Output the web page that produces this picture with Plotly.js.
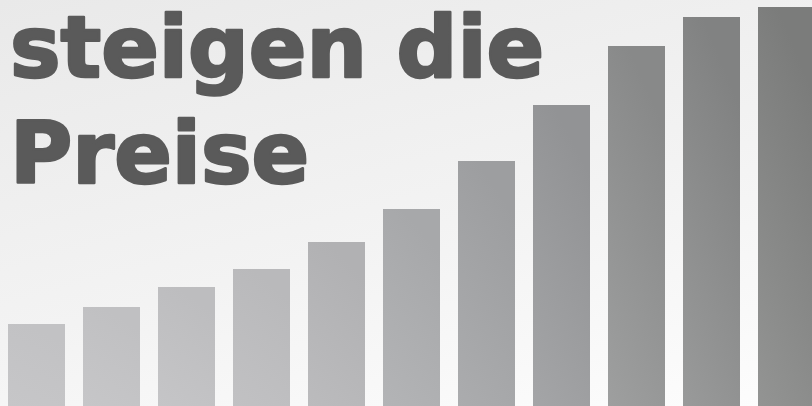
<!DOCTYPE html>
<html>
<head>
<meta charset="utf-8">
<script src="https://cdn.plot.ly/plotly-3.0.1.min.js"></script>
<style>
  html, body { margin: 0; padding: 0; }
  #wrap { width: 812px; height: 406px; background: linear-gradient(165deg, #e9e9e9 0%, #f3f3f3 55%, #fdfdfd 100%); }
  #chart { width: 812px; height: 406px; }
  .annotation-text { stroke: #5a5a5a; stroke-width: 2.6px; stroke-linejoin: round; }
</style>
</head>
<body>
<div id="wrap"><div id="chart"></div></div>
<script>
// Data (bar heights, relative units)
const positions = [0, 1, 2, 3, 4, 5, 6, 7, 8, 9, 10];
const priceLevels = [82, 99, 119, 137, 164, 197, 245, 301, 360, 389, 399];
const barColors = ['#c4c4c6', '#c3c3c5', '#c1c1c3', '#bdbdbf', '#b6b6b8', '#adaeb0',
                   '#a4a5a7', '#9b9c9e', '#939494', '#8d8e8e', '#878887'];
const titleLines = ['steigen die', 'Preise'];

const trace = {
  type: 'bar',
  x: positions,
  y: priceLevels,
  width: 0.76,
  marker: { color: barColors, line: { width: 0 } },
  hoverinfo: 'none'
};

const titleFont = { family: 'DejaVu Sans', size: 85, color: '#5a5a5a', weight: 'bold' };

const layout = {
  width: 812, height: 406,
  margin: { l: 0, r: 0, t: 0, b: 0, pad: 0 },
  paper_bgcolor: 'rgba(0,0,0,0)',
  plot_bgcolor: 'rgba(0,0,0,0)',
  showlegend: false,
  xaxis: { range: [-0.4867, 10.34], visible: false, fixedrange: true },
  yaxis: { range: [0, 406], visible: false, fixedrange: true },
  annotations: [
    { text: titleLines[0], xref: 'paper', yref: 'paper', x: 0.0095, y: 1 - 47.5 / 406,
      xanchor: 'left', yanchor: 'middle', showarrow: false, font: titleFont },
    { text: titleLines[1], xref: 'paper', yref: 'paper', x: 0.0095, y: 1 - 153.5 / 406,
      xanchor: 'left', yanchor: 'middle', showarrow: false, font: titleFont }
  ]
};

function shade(hex, d) {
  const v = parseInt(hex.slice(1), 16);
  const c = [(v >> 16) & 255, (v >> 8) & 255, v & 255].map(x => Math.max(0, Math.min(255, Math.round(x + d))));
  return 'rgb(' + c.join(',') + ')';
}

Plotly.newPlot('chart', [trace], layout, { displayModeBar: false, staticPlot: true }).then(gd => {
  // subtle light-to-dark shading inside each bar (darker at the top, as in the reference)
  const svg = gd.querySelector('.main-svg');
  const ns = 'http://www.w3.org/2000/svg';
  let defs = svg.querySelector('defs');
  if (!defs) { defs = document.createElementNS(ns, 'defs'); svg.insertBefore(defs, svg.firstChild); }
  gd.querySelectorAll('.bars .point path').forEach((p, i) => {
    const g = document.createElementNS(ns, 'linearGradient');
    g.setAttribute('id', 'barGrad' + i);
    g.setAttribute('x1', '0'); g.setAttribute('y1', '1');
    g.setAttribute('x2', '0.35'); g.setAttribute('y2', '0');
    const amt = priceLevels[i] * 0.03;
    [[0, shade(barColors[i], amt)], [1, shade(barColors[i], -amt)]].forEach(([o, c]) => {
      const s = document.createElementNS(ns, 'stop');
      s.setAttribute('offset', o); s.setAttribute('stop-color', c);
      g.appendChild(s);
    });
    defs.appendChild(g);
    p.style.fill = 'url(#barGrad' + i + ')';
  });
});
</script>
</body>
</html>
